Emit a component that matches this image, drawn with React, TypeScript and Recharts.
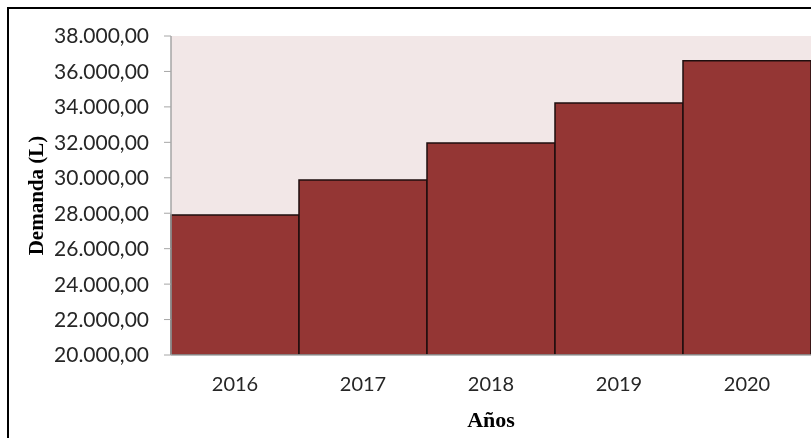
import { BarChart, Bar, XAxis, YAxis, CartesianGrid } from "recharts";

const years = ["2016", "2017", "2018", "2019", "2020"];
const demand = [27900, 29870, 31960, 34220, 36610];
const yTicks = [20000, 22000, 24000, 26000, 28000, 30000, 32000, 34000, 36000, 38000];

const chartData = years.map((year, i) => ({ year, demand: demand[i] }));

// 38000 -> "38.000,00"
const fmt = (v: number) => {
  const [int, dec] = v.toFixed(2).split(".");
  return int.replace(/\B(?=(\d{3})+(?!\d))/g, ".") + "," + dec;
};

const App = () => {
  return (
    <div
      style={{
        position: "fixed",
        left: 7,
        top: 7,
        borderLeft: "2px solid #000",
        borderTop: "2px solid #000",
        width: 810,
        height: 437,
        overflow: "hidden",
      }}
    >
      <BarChart
        width={802}
        height={429}
        data={chartData}
        margin={{ top: 27, right: 0, left: 0, bottom: 0 }}
        barCategoryGap={0}
      >
        <CartesianGrid fill="#F2E7E7" horizontal={false} vertical={false} />
        <XAxis
          dataKey="year"
          height={83}
          tickLine={false}
          tickSize={0}
          tickMargin={22}
          axisLine={{ stroke: "#A6A6A6", strokeWidth: 1.5 }}
          tick={{ fill: "#262626", fontSize: 20, fontFamily: "Lato" }}
          label={{
            value: "Años",
            position: "insideBottom",
            offset: 11,
            style: { fontFamily: "Liberation Serif", fontWeight: "bold", fontSize: 22, fill: "#000" },
          }}
        />
        <YAxis
          width={162}
          domain={[20000, 38000]}
          ticks={yTicks}
          interval={0}
          allowDataOverflow
          tickFormatter={fmt}
          tickSize={7}
          tickMargin={15}
          axisLine={{ stroke: "#A6A6A6", strokeWidth: 1.5 }}
          tickLine={{ stroke: "#A6A6A6" }}
          tick={{ fill: "#262626", fontSize: 21, fontFamily: "Lato" }}
          label={{
            value: "Demanda (L)",
            angle: -90,
            position: "insideLeft",
            offset: 27,
            style: {
              textAnchor: "middle",
              fontFamily: "Liberation Serif",
              fontWeight: "bold",
              fontSize: 21,
              fill: "#000",
            },
          }}
        />
        <Bar
          dataKey="demand"
          fill="#943634"
          stroke="#1E0E0E"
          strokeWidth={1.5}
          isAnimationActive={false}
        />
      </BarChart>
    </div>
  );
};

export default App;
